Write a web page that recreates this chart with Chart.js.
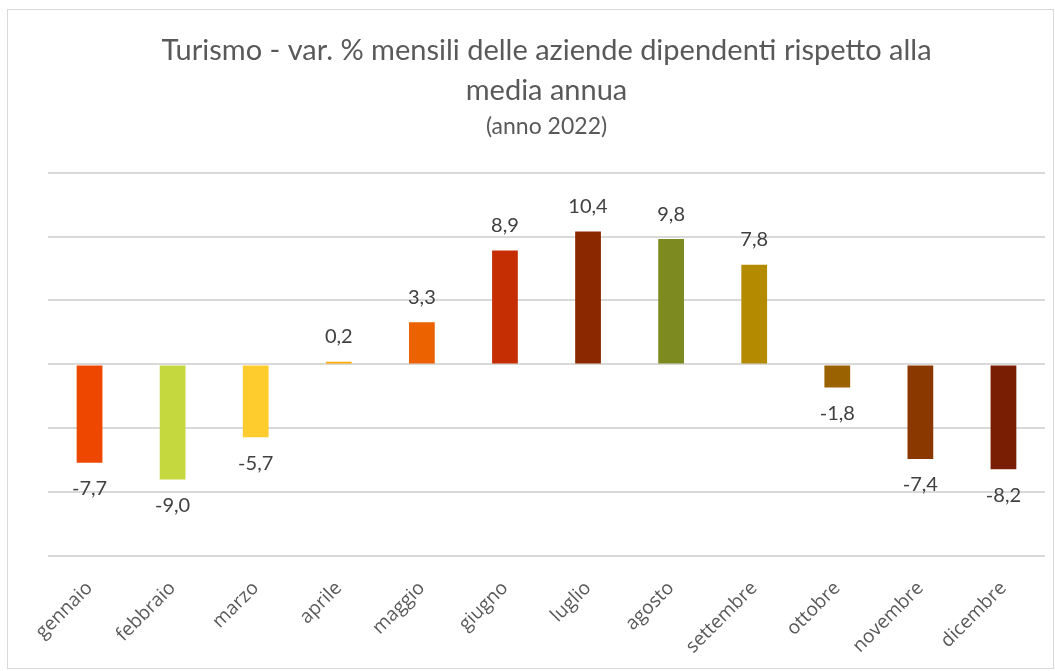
<!DOCTYPE html>
<html>
<head>
<meta charset="utf-8">
<script src="https://cdn.jsdelivr.net/npm/chart.js@4"></script>
<style>
  body { margin: 0; background: #fff; }
  #wrap { position: relative; width: 1055px; height: 671px; }
  #frame {
    position: absolute; left: 7px; top: 9px; width: 1045px; height: 658px;
    border: 1px solid #d9d9d9; pointer-events: none;
  }
</style>
</head>
<body>
<div id="wrap">
  <canvas id="chart" width="1055" height="671"></canvas>
  <div id="frame"></div>
</div>
<script>
  const months = ['gennaio', 'febbraio', 'marzo', 'aprile', 'maggio', 'giugno',
                  'luglio', 'agosto', 'settembre', 'ottobre', 'novembre', 'dicembre'];
  const variations = [-7.7, -9.0, -5.7, 0.2, 3.3, 8.9, 10.4, 9.8, 7.8, -1.8, -7.4, -8.2];
  const barColors = ['#ee4700', '#c5d83e', '#fecc2c', '#fdaa00', '#ec6100', '#c52e03',
                     '#8b2800', '#7c8a1f', '#b48a00', '#9a6200', '#8b3800', '#7a1e03'];
  const titleLines = ['Turismo - var. % mensili delle aziende dipendenti rispetto alla', 'media annua'];
  const subtitleText = '(anno 2022)';

  const fontFamily = 'Lato, "Open Sans", sans-serif';

  // draw the value next to each bar, italian decimal comma
  const valueLabels = {
    id: 'valueLabels',
    afterDatasetsDraw(chart) {
      const ctx = chart.ctx;
      const meta = chart.getDatasetMeta(0);
      ctx.save();
      ctx.font = '20px ' + fontFamily;
      ctx.fillStyle = '#404040';
      ctx.textAlign = 'center';
      ctx.textBaseline = 'middle';
      meta.data.forEach((bar, i) => {
        const v = variations[i];
        const text = v.toFixed(1).replace('.', ',');
        const y = v >= 0 ? bar.y - 25 : bar.y + 26;
        ctx.fillText(text, bar.x, y);
      });
      ctx.restore();
    }
  };

  new Chart(document.getElementById('chart'), {
    type: 'bar',
    data: {
      labels: months,
      datasets: [{
        data: variations,
        backgroundColor: barColors,
        categoryPercentage: 1,
        barPercentage: 0.31
      }]
    },
    options: {
      responsive: false,
      animation: false,
      layout: { padding: { left: 48, right: 10, top: 31, bottom: 0 } },
      plugins: {
        legend: { display: false },
        tooltip: { enabled: false },
        title: {
          display: true,
          text: titleLines,
          color: '#595959',
          font: { family: fontFamily, size: 29, weight: 'normal', lineHeight: 1.38 },
          padding: { top: 0, bottom: 2 }
        },
        subtitle: {
          display: true,
          text: subtitleText,
          color: '#595959',
          font: { family: fontFamily, size: 23, weight: 'normal', lineHeight: 1.2 },
          padding: { top: 0, bottom: 32 }
        }
      },
      scales: {
        x: {
          grid: { display: false },
          border: { display: false },
          ticks: {
            color: '#595959',
            font: { family: '"Open Sans", sans-serif', size: 19 },
            minRotation: 45,
            maxRotation: 45,
            padding: 13
          }
        },
        y: {
          min: -15,
          max: 15,
          ticks: { display: false, stepSize: 5 },
          border: { display: false },
          grid: { color: '#d9d9d9', lineWidth: 2, drawTicks: false }
        }
      }
    },
    plugins: [valueLabels]
  });
</script>
</body>
</html>
